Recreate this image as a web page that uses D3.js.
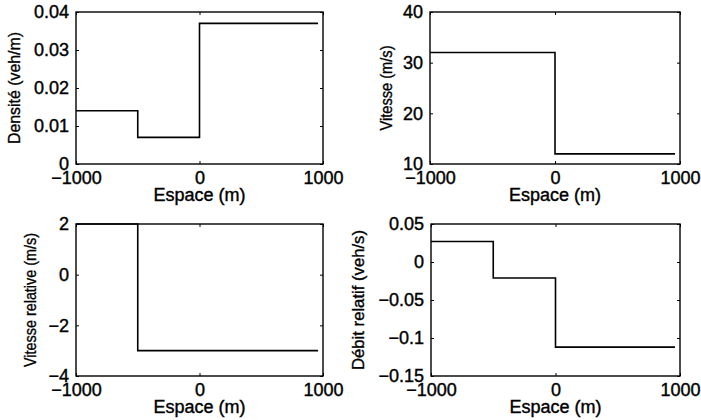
<!DOCTYPE html>
<html><head><meta charset="utf-8">
<script src="https://cdn.jsdelivr.net/npm/d3@7"></script>
<style>body{margin:0;background:#fff}svg{display:block}text{font-family:"Liberation Sans",Arial,sans-serif;fill:#000}</style>
</head><body>
<svg id="c" width="701" height="420"></svg>
<script>
// ---- data ----
const xStops = [-1000, -500, 0, 960];
const densite = [0.014, 0.007, 0.037, 0.037];
const vitesse = [32, 32, 12, 12];
const vitesseRel = [2, -3, -3, -3];
const debitRel = [0.027, -0.021, -0.112, -0.112];
const xTicks = [-1000, 0, 1000];
const yTicksDensite = [0, 0.01, 0.02, 0.03, 0.04];
const yTicksVitesse = [10, 20, 30, 40];
const yTicksVitRel = [-4, -2, 0, 2];
const yTicksDebit = [-0.15, -0.1, -0.05, 0, 0.05];
const xLabel = "Espace (m)";
const yLabels = ["Densité (veh/m)", "Vitesse (m/s)", "Vitesse relative (m/s)", "Débit relatif (veh/s)"];

// ---- layout ----
const panels = [
  {vals: densite, ticks: yTicksDensite, dom: [0, 0.04], label: yLabels[0], x0: 76, x1: 323, y0: 12, y1: 164, labX: 20, labLen: 112},
  {vals: vitesse, ticks: yTicksVitesse, dom: [10, 40], label: yLabels[1], x0: 430, x1: 680, y0: 12, y1: 164, labX: 392, labLen: 85},
  {vals: vitesseRel, ticks: yTicksVitRel, dom: [-4, 2], label: yLabels[2], x0: 76, x1: 323, y0: 224, y1: 376, labX: 36, labLen: 134},
  {vals: debitRel, ticks: yTicksDebit, dom: [-0.15, 0.05], label: yLabels[3], x0: 431, x1: 680, y0: 224, y1: 376, labX: 364, labLen: 140}
];
const fmt = v => (v < 0 ? "\u2212" : "") + String(Math.abs(+v.toFixed(4)));
const svg = d3.select("#c");
svg.append("rect").attr("width", 701).attr("height", 420).attr("fill", "#fff");

panels.forEach(p => {
  const x = d3.scaleLinear().domain([-1000, 1000]).range([p.x0, p.x1]);
  const y = d3.scaleLinear().domain(p.dom).range([p.y1, p.y0]);
  const g = svg.append("g");
  const tl = 3;
  const axB = d3.axisBottom(x).tickValues(xTicks).tickSize(-tl).tickPadding(7).tickFormat(fmt);
  const axT = d3.axisTop(x).tickValues(xTicks).tickSize(-tl).tickFormat("");
  const axL = d3.axisLeft(y).tickValues(p.ticks).tickSize(-tl).tickPadding(7).tickFormat(fmt);
  const axR = d3.axisRight(y).tickValues(p.ticks).tickSize(-tl).tickFormat("");
  const style = sel => {
    sel.selectAll(".domain").remove();
    sel.selectAll("line").attr("stroke", "#000").attr("stroke-width", 1);
    sel.selectAll("text").attr("font-size", 18).attr("font-family", "Liberation Sans, Arial, sans-serif")
      .attr("fill", "#000").attr("stroke", "#000").attr("stroke-width", 0.4);
  };
  g.append("g").attr("transform", `translate(0,${p.y1})`).call(axB).call(style);
  g.append("g").attr("transform", `translate(0,${p.y0})`).call(axT).call(style);
  g.append("g").attr("transform", `translate(${p.x0},0)`).call(axL).call(style);
  g.append("g").attr("transform", `translate(${p.x1},0)`).call(axR).call(style);
  g.append("rect").attr("x", p.x0).attr("y", p.y0).attr("width", p.x1 - p.x0).attr("height", p.y1 - p.y0)
    .attr("fill", "none").attr("stroke", "#000").attr("stroke-width", 1.4);
  const pts = xStops.map((xv, i) => [xv, p.vals[i]]);
  g.append("path").datum(pts)
    .attr("d", d3.line().x(d => x(d[0])).y(d => y(d[1])).curve(d3.curveStepAfter))
    .attr("fill", "none").attr("stroke", "#000").attr("stroke-width", 1.6);
  g.append("text").attr("x", (p.x0 + p.x1) / 2).attr("y", p.y1 + 37).attr("text-anchor", "middle")
    .attr("font-size", 18).attr("stroke", "#000").attr("stroke-width", 0.4).text(xLabel);
  g.append("text").attr("transform", `translate(${p.labX},${(p.y0 + p.y1) / 2}) rotate(-90)`)
    .attr("text-anchor", "middle").attr("font-size", 17).attr("stroke", "#000").attr("stroke-width", 0.35)
    .attr("textLength", p.labLen).attr("lengthAdjust", "spacingAndGlyphs").text(p.label);
});
</script>
</body></html>
